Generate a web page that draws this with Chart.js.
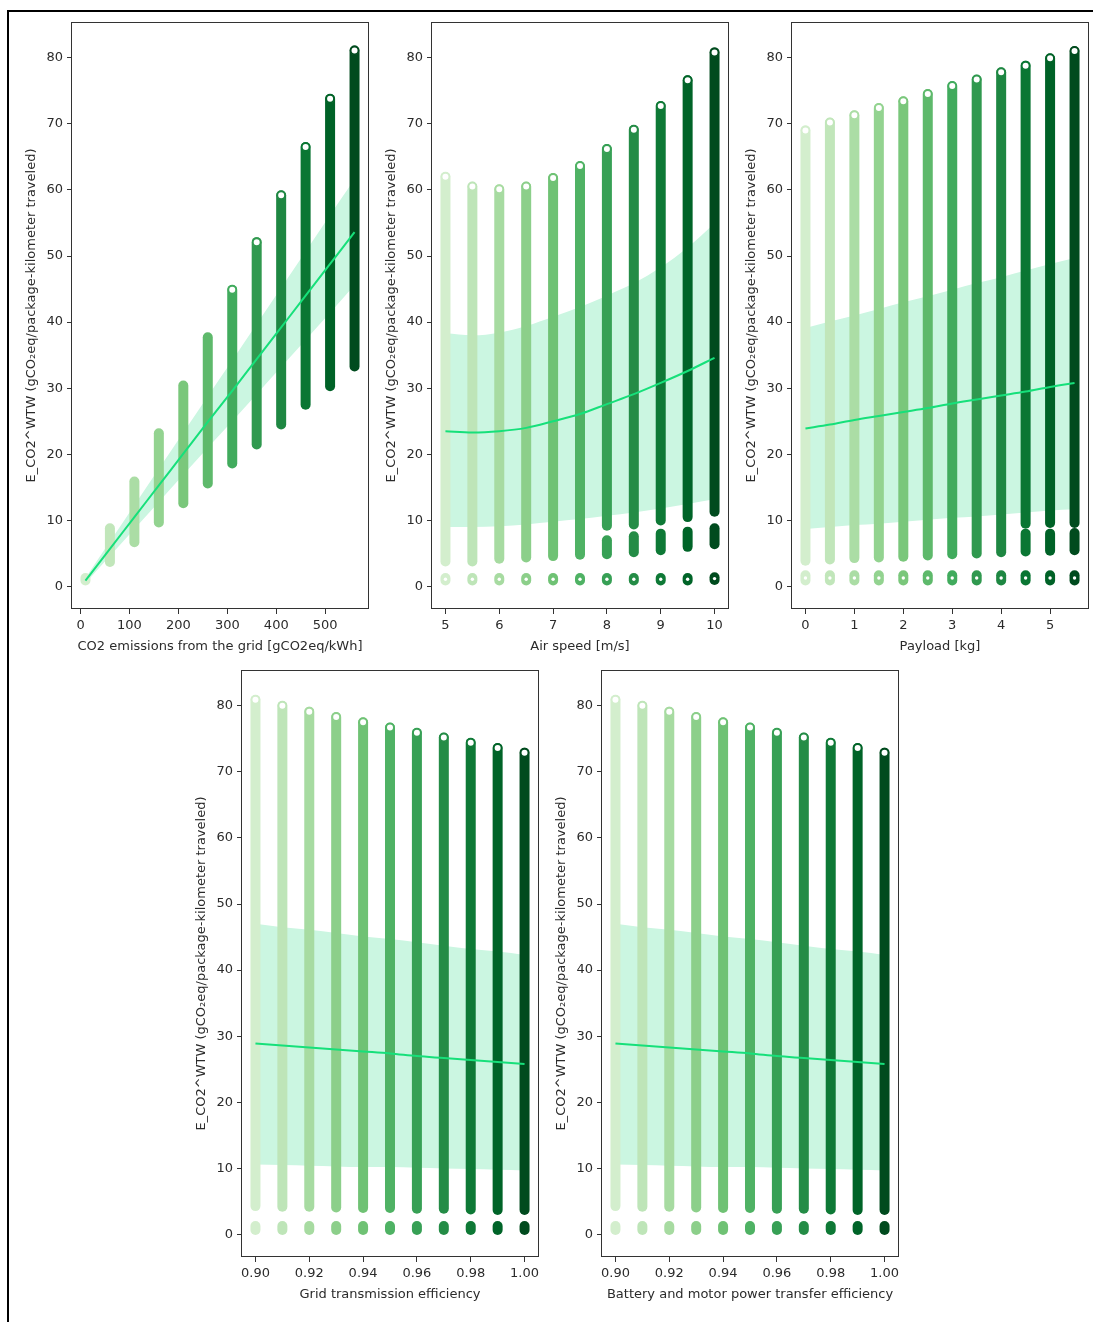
<!DOCTYPE html>
<html>
<head>
<meta charset="utf-8">
<title>E_CO2 WTW sensitivity</title>
<script src="https://cdn.jsdelivr.net/npm/chart.js@4.4.1/dist/chart.umd.min.js"></script>
<style>
  html, body { margin: 0; padding: 0; background: #fff; }
  body { width: 1093px; height: 1322px; position: relative; overflow: hidden; }
  #frame { position: absolute; left: 7px; top: 10px; width: 1200px; height: 1400px;
           border-left: 2px solid #000; border-top: 2px solid #000; }
  .panel { position: absolute; }
</style>
</head>
<body>
<div id="frame"></div>
<canvas class="panel" id="c1"></canvas>
<canvas class="panel" id="c2"></canvas>
<canvas class="panel" id="c3"></canvas>
<canvas class="panel" id="c4"></canvas>
<canvas class="panel" id="c5"></canvas>
<script>
// ---------- shared axis ----------
const yTitle = 'E_CO2^WTW (gCO\u2082eq/package-kilometer traveled)';
const yTicks = [0, 10, 20, 30, 40, 50, 60, 70, 80];
const yTickLabels = ['0', '10', '20', '30', '40', '50', '60', '70', '80'];

// ---------- CO2 emissions from the grid ----------
const gridCO2 = [10, 60, 110, 160, 210, 260, 310, 360, 410, 460, 510, 560];
const gridCO2Low  = [0.9, 3.7, 6.7, 9.7, 12.6, 15.6, 18.6, 21.5, 24.5, 27.5, 30.3, 33.3];
const gridCO2High = [1.3, 8.8, 15.9, 23.2, 30.4, 37.7, 44.9, 52.1, 59.2, 66.5, 73.8, 81.1];
const gridCO2Cap  = [null, null, null, null, null, null, 44.9, 52.1, 59.2, 66.5, 73.8, 81.1];
const gridCO2Fit    = [0.9, 5.7, 10.5, 15.3, 20.1, 24.9, 29.6, 34.4, 39.2, 44.0, 48.8, 53.6];
const gridCO2CiHigh = [1.3, 6.8, 12.3, 17.8, 23.3, 28.8, 34.2, 39.7, 45.2, 50.7, 56.2, 61.6];
const gridCO2CiLow  = [0.5, 4.6, 8.7, 12.8, 16.9, 21.0, 25.0, 29.1, 33.2, 37.3, 41.4, 45.6];
const gridCO2Ticks = [0, 100, 200, 300, 400, 500];
const gridCO2TickLabels = ['0', '100', '200', '300', '400', '500'];

// ---------- Air speed ----------
const airSpeed = [5, 5.5, 6, 6.5, 7, 7.5, 8, 8.5, 9, 9.5, 10];
const airLow   = [3.8, 3.8, 4.2, 4.4, 4.6, 4.8, 9.2, 9.4, 10.0, 10.5, 11.3];
const airHigh  = [62.0, 60.5, 60.1, 60.5, 61.8, 63.6, 66.2, 69.1, 72.7, 76.6, 80.8];
const airMidLow  = [null, null, null, null, null, null, 4.9, 5.2, 5.5, 6.0, 6.4];
const airMidHigh = [null, null, null, null, null, null, 7.0, 7.6, 8.0, 8.3, 8.8];
const airBaseLow  = [0.9, 0.9, 0.9, 0.9, 0.9, 0.9, 0.9, 0.9, 0.9, 0.9, 1.0];
const airBaseHigh = [1.3, 1.3, 1.3, 1.3, 1.3, 1.3, 1.3, 1.3, 1.3, 1.3, 1.4];
const airFit    = [23.5, 23.3, 23.5, 24.0, 25.0, 26.1, 27.6, 29.1, 30.8, 32.6, 34.6];
const airCiHigh = [38.3, 38.0, 38.4, 39.4, 40.8, 42.3, 44.0, 45.9, 48.3, 51.3, 54.9];
const airCiLow  = [9.0, 9.0, 9.1, 9.4, 9.8, 10.2, 10.7, 11.2, 11.8, 12.5, 13.2];
const airTicks = [5, 6, 7, 8, 9, 10];
const airTickLabels = ['5', '6', '7', '8', '9', '10'];

// ---------- Payload ----------
const payload = [0, 0.5, 1, 1.5, 2, 2.5, 3, 3.5, 4, 4.5, 5, 5.5];
const payLow   = [3.9, 4.1, 4.3, 4.4, 4.5, 4.7, 4.9, 5.0, 5.2, 9.5, 9.6, 9.6];
const payHigh  = [69.0, 70.2, 71.3, 72.4, 73.4, 74.5, 75.7, 76.7, 77.8, 78.8, 79.9, 81.0];
const payMidLow  = [null, null, null, null, null, null, null, null, null, 5.3, 5.4, 5.5];
const payMidHigh = [null, null, null, null, null, null, null, null, null, 8.0, 8.0, 8.1];
const payBaseLow  = [0.9, 0.9, 0.9, 0.9, 0.9, 0.9, 0.9, 0.9, 0.9, 0.9, 0.9, 0.9];
const payBaseHigh = [1.7, 1.7, 1.7, 1.7, 1.7, 1.7, 1.7, 1.7, 1.7, 1.7, 1.7, 1.7];
const payFit    = [23.9, 24.5, 25.2, 25.8, 26.4, 27.0, 27.7, 28.3, 28.9, 29.5, 30.2, 30.8];
const payCiHigh = [39.1, 40.1, 41.0, 42.0, 43.0, 43.9, 44.9, 45.9, 46.8, 47.8, 48.8, 49.7];
const payCiLow  = [8.7, 9.0, 9.3, 9.5, 9.8, 10.1, 10.4, 10.6, 10.9, 11.2, 11.5, 11.7];
const payTicks = [0, 1, 2, 3, 4, 5];
const payTickLabels = ['0', '1', '2', '3', '4', '5'];

// ---------- Grid transmission efficiency ----------
const gridEff = [0.90, 0.91, 0.92, 0.93, 0.94, 0.95, 0.96, 0.97, 0.98, 0.99, 1.00];
const gridEffLow  = [4.3, 4.2, 4.2, 4.1, 4.0, 4.0, 3.9, 3.9, 3.8, 3.7, 3.7];
const gridEffHigh = [80.9, 80.0, 79.1, 78.3, 77.5, 76.7, 75.9, 75.2, 74.4, 73.6, 72.9];
const gridEffBaseLow  = [0.7, 0.7, 0.7, 0.7, 0.7, 0.7, 0.7, 0.7, 0.7, 0.7, 0.7];
const gridEffBaseHigh = [1.3, 1.3, 1.3, 1.3, 1.3, 1.3, 1.3, 1.3, 1.3, 1.3, 1.3];
const gridEffFit    = [28.9, 28.6, 28.3, 28.0, 27.7, 27.4, 27.0, 26.7, 26.4, 26.1, 25.8];
const gridEffCiHigh = [47.0, 46.5, 46.1, 45.6, 45.1, 44.7, 44.2, 43.7, 43.2, 42.8, 42.3];
const gridEffCiLow  = [10.6, 10.5, 10.4, 10.3, 10.2, 10.2, 10.1, 10.0, 9.9, 9.8, 9.7];

// ---------- Battery and motor power transfer efficiency ----------
const battEff = [0.90, 0.91, 0.92, 0.93, 0.94, 0.95, 0.96, 0.97, 0.98, 0.99, 1.00];
const battEffLow  = [4.3, 4.2, 4.2, 4.1, 4.0, 4.0, 3.9, 3.9, 3.8, 3.7, 3.7];
const battEffHigh = [80.9, 80.0, 79.1, 78.3, 77.5, 76.7, 75.9, 75.2, 74.4, 73.6, 72.9];
const battEffBaseLow  = [0.7, 0.7, 0.7, 0.7, 0.7, 0.7, 0.7, 0.7, 0.7, 0.7, 0.7];
const battEffBaseHigh = [1.3, 1.3, 1.3, 1.3, 1.3, 1.3, 1.3, 1.3, 1.3, 1.3, 1.3];
const battEffFit    = [28.9, 28.6, 28.3, 28.0, 27.7, 27.4, 27.0, 26.7, 26.4, 26.1, 25.8];
const battEffCiHigh = [47.0, 46.5, 46.1, 45.6, 45.1, 44.7, 44.2, 43.7, 43.2, 42.8, 42.3];
const battEffCiLow  = [10.6, 10.5, 10.4, 10.3, 10.2, 10.2, 10.1, 10.0, 9.9, 9.8, 9.7];

const effTicks = [0.90, 0.92, 0.94, 0.96, 0.98, 1.00];
const effTickLabels = ['0.90', '0.92', '0.94', '0.96', '0.98', '1.00'];

// ---------- styling ----------
const FONT = "'DejaVu Sans', sans-serif";
const TXT = '#2b2b2b';
const AXIS = '#333333';
const FIT_COLOR = '#16e07a';
const BAND_COLOR = '#cbf6e1';
const COL_WIDTH = 10;

// Greens colour ramp
const GREENS = [[0, [247, 252, 245]], [0.125, [229, 245, 224]], [0.25, [199, 233, 192]],
  [0.375, [161, 217, 155]], [0.5, [116, 196, 118]], [0.625, [65, 171, 93]],
  [0.75, [35, 139, 69]], [0.875, [0, 109, 44]], [1, [0, 68, 27]]];
function greens(t) {
  for (let k = 1; k < GREENS.length; k++) {
    if (t <= GREENS[k][0]) {
      const [t0, a] = GREENS[k - 1], [t1, b] = GREENS[k];
      const f = (t - t0) / (t1 - t0);
      const c = a.map((v, j) => Math.round(v + (b[j] - v) * f));
      return `rgb(${c[0]},${c[1]},${c[2]})`;
    }
  }
  return 'rgb(0,68,27)';
}
function shades(n) {
  const out = [];
  for (let i = 0; i < n; i++) out.push(greens(0.2 + 0.78 * i / (n - 1)));
  return out;
}

// plot frame drawn around the chart area
const framePlugin = {
  id: 'plotFrame',
  afterDatasetsDraw(chart) {
    const { ctx, chartArea: a } = chart;
    ctx.save();
    ctx.strokeStyle = AXIS;
    ctx.lineWidth = 1;
    ctx.strokeRect(Math.round(a.left) - 0.5, Math.round(a.top) + 0.5,
                   Math.round(a.right - a.left) + 1, Math.round(a.bottom - a.top) - 1);
    ctx.restore();
  }
};

const Y_AXIS_W = 72, X_AXIS_H = 52, PAD_TOP = 12, PAD_RIGHT = 6;

function buildPanel(id, box, p) {
  const canvas = document.getElementById(id);
  const w = (box.right - box.left) + Y_AXIS_W + PAD_RIGHT;
  const h = (box.bottom - box.top) + PAD_TOP + X_AXIS_H;
  canvas.width = w; canvas.height = h;
  canvas.style.left = (box.left - Y_AXIS_W) + 'px';
  canvas.style.top = (box.top - PAD_TOP) + 'px';
  canvas.style.width = w + 'px'; canvas.style.height = h + 'px';

  const colors = shades(p.xs.length);
  const datasets = [];

  // confidence band
  datasets.push({ data: p.xs.map((x, i) => ({ x, y: p.ciHigh[i] })), showLine: true,
    borderWidth: 0, borderColor: 'rgba(0,0,0,0)', pointRadius: 0, fill: '+1',
    backgroundColor: BAND_COLOR, cubicInterpolationMode: 'monotone', order: 10 });
  datasets.push({ data: p.xs.map((x, i) => ({ x, y: p.ciLow[i] })), showLine: true,
    borderWidth: 0, borderColor: 'rgba(0,0,0,0)', pointRadius: 0, fill: false,
    cubicInterpolationMode: 'monotone', order: 10 });

  // scatter columns: one stroke per contiguous run of points
  p.xs.forEach((x, i) => {
    const runs = [[p.low[i], p.high[i]]];
    if (p.midLow && p.midLow[i] != null) runs.push([p.midLow[i], p.midHigh[i]]);
    if (p.baseLow) runs.push([p.baseLow[i], p.baseHigh[i]]);
    runs.forEach(([lo, hi]) => datasets.push({
      data: [{ x, y: lo }, { x, y: hi }], showLine: true, borderColor: colors[i],
      borderWidth: COL_WIDTH, borderCapStyle: 'round', pointRadius: 0, fill: false, order: 5 }));
  });

  // open circles at the top of each column
  const capPts = [], capCols = [];
  p.xs.forEach((x, i) => {
    if (p.cap[i] != null) { capPts.push({ x, y: p.cap[i] }); capCols.push(colors[i]); }
  });
  datasets.push({ data: capPts, showLine: false, pointRadius: 3.9, pointBorderWidth: 1.8,
    pointBackgroundColor: '#ffffff', pointBorderColor: capCols, order: 3 });

  // hollow centres of the low clusters
  if (p.ringBase) {
    datasets.push({ data: p.xs.map((x, i) => ({ x, y: (p.baseLow[i] + p.baseHigh[i]) / 2 })),
      showLine: false, pointRadius: 1.7, pointBorderWidth: 0,
      pointBackgroundColor: '#ffffff', order: 3 });
  }

  // regression fit
  datasets.push({ data: p.xs.map((x, i) => ({ x, y: p.fit[i] })), showLine: true,
    borderColor: FIT_COLOR, borderWidth: 2, pointRadius: 0, fill: false,
    cubicInterpolationMode: 'monotone', order: 0 });

  const tickFont = { family: FONT, size: 13 };
  return new Chart(canvas, {
    type: 'scatter',
    data: { datasets },
    plugins: [framePlugin],
    options: {
      responsive: false, animation: false, devicePixelRatio: 1,
      layout: { padding: { top: PAD_TOP, right: PAD_RIGHT, left: 0, bottom: 0 } },
      plugins: { legend: { display: false }, tooltip: { enabled: false } },
      scales: {
        x: {
          type: 'linear', min: p.xMin, max: p.xMax,
          afterBuildTicks: s => { s.ticks = p.xTicks.map(v => ({ value: v })); },
          afterFit: s => { s.height = X_AXIS_H; },
          ticks: { autoSkip: false, maxRotation: 0, minRotation: 0, padding: 4, color: TXT,
                   font: tickFont, callback: (v, i) => p.xTickLabels[i] },
          grid: { drawOnChartArea: false, drawTicks: true, tickLength: 5, color: AXIS, lineWidth: 1 },
          border: { display: false },
          title: { display: true, text: p.xTitle, color: TXT, font: tickFont,
                   padding: { top: 0, bottom: 7 } }
        },
        y: {
          type: 'linear', min: -3.4, max: 85.4,
          afterBuildTicks: s => { s.ticks = yTicks.map(v => ({ value: v })); },
          afterFit: s => { s.width = Y_AXIS_W; },
          ticks: { autoSkip: false, padding: 4, color: TXT, font: tickFont,
                   callback: (v, i) => yTickLabels[i] },
          grid: { drawOnChartArea: false, drawTicks: true, tickLength: 5, color: AXIS, lineWidth: 1 },
          border: { display: false },
          title: { display: true, text: yTitle, color: TXT, font: { family: FONT, size: 13 },
                   padding: { top: 24, bottom: 0 } }
        }
      }
    }
  });
}

buildPanel('c1', { left: 72, top: 22, right: 368, bottom: 609 }, {
  xs: gridCO2, low: gridCO2Low, high: gridCO2High, cap: gridCO2Cap,
  fit: gridCO2Fit, ciLow: gridCO2CiLow, ciHigh: gridCO2CiHigh,
  xMin: -17.5, xMax: 587.5, xTicks: gridCO2Ticks, xTickLabels: gridCO2TickLabels,
  xTitle: 'CO2 emissions from the grid [gCO2eq/kWh]'
});
buildPanel('c2', { left: 432, top: 22, right: 728, bottom: 609 }, {
  xs: airSpeed, low: airLow, high: airHigh, cap: airHigh,
  midLow: airMidLow, midHigh: airMidHigh, baseLow: airBaseLow, baseHigh: airBaseHigh, ringBase: true,
  fit: airFit, ciLow: airCiLow, ciHigh: airCiHigh,
  xMin: 4.75, xMax: 10.25, xTicks: airTicks, xTickLabels: airTickLabels,
  xTitle: 'Air speed [m/s]'
});
buildPanel('c3', { left: 792, top: 22, right: 1088, bottom: 609 }, {
  xs: payload, low: payLow, high: payHigh, cap: payHigh,
  midLow: payMidLow, midHigh: payMidHigh, baseLow: payBaseLow, baseHigh: payBaseHigh, ringBase: true,
  fit: payFit, ciLow: payCiLow, ciHigh: payCiHigh,
  xMin: -0.275, xMax: 5.775, xTicks: payTicks, xTickLabels: payTickLabels,
  xTitle: 'Payload [kg]'
});
buildPanel('c4', { left: 242, top: 670, right: 538, bottom: 1257 }, {
  xs: gridEff, low: gridEffLow, high: gridEffHigh, cap: gridEffHigh,
  baseLow: gridEffBaseLow, baseHigh: gridEffBaseHigh,
  fit: gridEffFit, ciLow: gridEffCiLow, ciHigh: gridEffCiHigh,
  xMin: 0.895, xMax: 1.005, xTicks: effTicks, xTickLabels: effTickLabels,
  xTitle: 'Grid transmission efficiency'
});
buildPanel('c5', { left: 602, top: 670, right: 898, bottom: 1257 }, {
  xs: battEff, low: battEffLow, high: battEffHigh, cap: battEffHigh,
  baseLow: battEffBaseLow, baseHigh: battEffBaseHigh,
  fit: battEffFit, ciLow: battEffCiLow, ciHigh: battEffCiHigh,
  xMin: 0.895, xMax: 1.005, xTicks: effTicks, xTickLabels: effTickLabels,
  xTitle: 'Battery and motor power transfer efficiency'
});
</script>
</body>
</html>
